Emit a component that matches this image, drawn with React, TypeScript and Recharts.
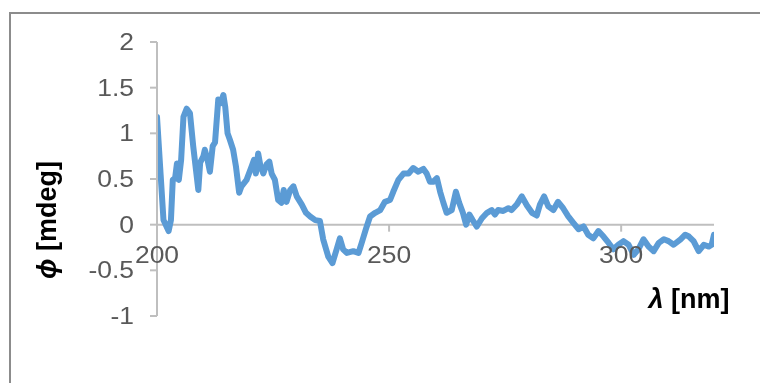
import React from 'react';
import { LineChart, Line, XAxis, YAxis, ReferenceLine, ReferenceDot } from 'recharts';

// CD spectrum: wavelength (nm) and ellipticity (mdeg)
const wavelength = [
  200.0, 201.4, 202.5, 203.0, 203.4, 203.9, 204.3, 204.7, 205.2, 205.7,
  206.4, 207.1, 207.8, 208.9, 209.3, 210.0, 210.3, 210.8, 211.4, 212.0,
  212.5, 213.2, 213.7, 214.3, 214.7, 215.2, 215.7, 216.4, 217.0, 217.7,
  218.2, 219.3, 220.4, 220.9, 221.3, 221.8, 222.3, 222.9, 223.6, 224.2,
  224.7, 225.4, 226.1, 226.8, 227.3, 227.9, 228.7, 229.4, 230.1, 231.2,
  232.1, 233.0, 234.1, 235.1, 235.8, 236.9, 237.8, 238.7, 239.4, 240.1,
  240.9, 242.3, 243.4, 244.1, 245.0, 245.9, 247.0, 248.1, 249.1, 250.2,
  250.9, 252.0, 253.1, 254.2, 255.2, 256.3, 257.4, 258.1, 258.8, 259.5,
  260.3, 261.0, 261.7, 262.4, 263.5, 264.4, 265.1, 265.9, 266.6, 267.3,
  268.0, 268.9, 270.0, 271.1, 272.1, 272.8, 273.5, 274.6, 275.7, 276.4,
  277.5, 278.6, 279.7, 280.8, 281.8, 282.5, 283.4, 284.3, 285.4, 286.4,
  287.5, 288.6, 289.7, 290.8, 291.9, 292.9, 294.0, 295.1, 296.2, 297.3,
  298.3, 299.4, 300.5, 301.6, 302.7, 303.7, 304.8, 305.9, 307.0, 308.1,
  309.2, 310.2, 311.3, 312.8, 313.8, 314.6, 315.6, 316.7, 317.8, 318.9,
  319.5, 320.0,
];
const ellipticity = [
  1.18, 0.05, -0.07, 0.05, 0.49, 0.51, 0.67, 0.49, 0.71, 1.18,
  1.27, 1.22, 0.86, 0.38, 0.68, 0.75, 0.82, 0.73, 0.58, 0.86,
  0.90, 1.37, 1.33, 1.42, 1.29, 1.00, 0.93, 0.82, 0.64, 0.35,
  0.42, 0.49, 0.64, 0.71, 0.56, 0.78, 0.64, 0.56, 0.66, 0.69,
  0.56, 0.49, 0.27, 0.24, 0.38, 0.25, 0.38, 0.42, 0.31, 0.22,
  0.13, 0.09, 0.05, 0.04, -0.16, -0.35, -0.42, -0.27, -0.15, -0.27,
  -0.31, -0.29, -0.31, -0.20, -0.05, 0.09, 0.13, 0.16, 0.25, 0.27,
  0.36, 0.49, 0.56, 0.56, 0.62, 0.58, 0.61, 0.56, 0.47, 0.47,
  0.51, 0.36, 0.24, 0.13, 0.16, 0.36, 0.24, 0.13, 0.00, 0.11,
  0.05, -0.02, 0.07, 0.13, 0.16, 0.11, 0.16, 0.15, 0.18, 0.16,
  0.22, 0.31, 0.21, 0.13, 0.10, 0.22, 0.31, 0.20, 0.16, 0.25,
  0.18, 0.09, 0.02, -0.05, -0.02, -0.11, -0.15, -0.07, -0.13, -0.20,
  -0.27, -0.22, -0.18, -0.22, -0.33, -0.27, -0.16, -0.24, -0.29, -0.20,
  -0.16, -0.18, -0.22, -0.16, -0.11, -0.13, -0.18, -0.29, -0.22, -0.24,
  -0.22, -0.11,
];
const xTicks = [200, 250, 300];
const yTicks = [-1, -0.5, 0, 0.5, 1, 1.5, 2];

const data = wavelength.map((nm, i) => ({ nm, cd: ellipticity[i] }));

const FONT = '"Liberation Sans", Arial, sans-serif';
const AXIS = '#BFBFBF';
const LABEL = '#595959';

const YTick = (props: any) => {
  const { x, y, payload } = props;
  return (
    <text
      transform={`translate(${x},${y}) scale(1.15,1)`}
      textAnchor="end"
      dominantBaseline="central"
      fontFamily={FONT}
      fontSize={23}
      fill={LABEL}
    >
      {payload.value}
    </text>
  );
};

// x ticks sit on the zero line, so they are drawn as dots at (nm, 0)
const xTickShape = (value: number) => (props: any) => {
  const { cx, cy } = props;
  return (
    <g>
      {value !== 200 && <line x1={cx} y1={cy} x2={cx} y2={cy + 7} stroke={AXIS} strokeWidth={2} />}
      <text
        transform={`translate(${cx},${cy + 30}) scale(1.15,1)`}
        textAnchor="middle"
        dominantBaseline="central"
        fontFamily={FONT}
        fontSize={23}
        fill={LABEL}
      >
        {value}
      </text>
    </g>
  );
};

const YTitle = () => (
  <text
    transform="translate(47,220) rotate(-90)"
    textAnchor="middle"
    dominantBaseline="central"
    fontFamily={FONT}
    fontSize={27}
    fontWeight="bold"
    fill="#000"
  >
    <tspan fontStyle="italic">ϕ</tspan> [mdeg]
  </text>
);

const XTitle = () => (
  <text
    x={689}
    y={299}
    textAnchor="middle"
    dominantBaseline="central"
    fontFamily={FONT}
    fontSize={27}
    fontWeight="bold"
    fill="#000"
  >
    <tspan fontStyle="italic">λ</tspan> [nm]
  </text>
);

export default function App() {
  return (
    <>
      <style>{'html, body { overflow: hidden; background: #fff; }'}</style>
      {/* chart frame: only its top and left edges fall inside the window */}
      <div
        style={{
          position: 'fixed',
          left: 9,
          top: 12,
          width: 900,
          height: 500,
          border: '2px solid #8C8C8C',
        }}
      />
      <div style={{ position: 'fixed', left: 0, top: 0 }}>
        <LineChart width={760} height={383} data={data} margin={{ top: 42, right: 46, bottom: 67, left: 97 }}>
          <XAxis dataKey="nm" type="number" domain={[200, 320]} ticks={xTicks} hide allowDataOverflow />
          <YAxis
            type="number"
            domain={[-1, 2]}
            ticks={yTicks}
            width={60}
            axisLine={{ stroke: AXIS, strokeWidth: 2 }}
            tickLine={{ stroke: AXIS, strokeWidth: 2 }}
            tickSize={7}
            tickMargin={16}
            tick={<YTick />}
            interval={0}
            label={<YTitle />}
          />
          <ReferenceLine y={0} stroke={AXIS} strokeWidth={2} label={<XTitle />} />
          {xTicks.map((t) => (
            <ReferenceDot key={t} x={t} y={0} r={1} shape={xTickShape(t)} />
          ))}
          <Line
            type="linear"
            dataKey="cd"
            stroke="#5B9BD5"
            strokeWidth={6}
            strokeLinejoin="round"
            strokeLinecap="round"
            dot={false}
            isAnimationActive={false}
          />
        </LineChart>
      </div>
    </>
  );
}
